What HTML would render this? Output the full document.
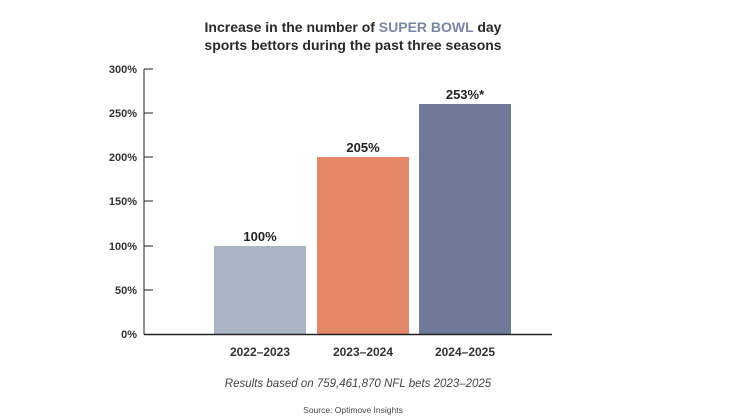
<!DOCTYPE html>
<html><head><style>
body{margin:0;background:#fff;}
svg{display:block;font-family:"Liberation Sans",sans-serif;}
</style></head><body>
<svg width="744" height="420" viewBox="0 0 744 420">
<text x="353" y="32" text-anchor="middle" font-size="14" font-weight="bold" fill="#2a2a2a">Increase in the number of <tspan fill="#7a86a6">SUPER BOWL</tspan> day</text>
<text x="353" y="50" text-anchor="middle" font-size="14" font-weight="bold" fill="#2a2a2a">sports bettors during the past three seasons</text>
<g stroke="#222" stroke-width="1">
<line x1="144" y1="69" x2="144" y2="334.5"/>
<line x1="144" y1="69" x2="153" y2="69"/>
<line x1="144" y1="113" x2="153" y2="113"/>
<line x1="144" y1="157" x2="153" y2="157"/>
<line x1="144" y1="201" x2="153" y2="201"/>
<line x1="144" y1="246" x2="153" y2="246"/>
<line x1="144" y1="290" x2="153" y2="290"/>
</g>
<g font-size="11" fill="#333" text-anchor="end" font-weight="bold">
<text x="137" y="73">300%</text>
<text x="137" y="117">250%</text>
<text x="137" y="161">200%</text>
<text x="137" y="205">150%</text>
<text x="137" y="250">100%</text>
<text x="137" y="294">50%</text>
<text x="137" y="338">0%</text>
</g>
<rect x="214" y="246" width="92" height="88" fill="#a9b4c6"/>
<rect x="317" y="157" width="92" height="177" fill="#e58769"/>
<rect x="419" y="104" width="92" height="230" fill="#6e7a98"/>
<line x1="144" y1="334.5" x2="552" y2="334.5" stroke="#222" stroke-width="1.5"/>
<g font-size="13" font-weight="bold" fill="#222" text-anchor="middle">
<text x="260" y="241">100%</text>
<text x="363" y="152">205%</text>
<text x="465" y="99">253%*</text>
</g>
<g font-size="12" font-weight="bold" fill="#333" text-anchor="middle">
<text x="260" y="356">2022–2023</text>
<text x="363" y="356">2023–2024</text>
<text x="465" y="356">2024–2025</text>
</g>
<text x="358" y="387" text-anchor="middle" font-size="11.5" font-style="italic" fill="#444">Results based on 759,461,870 NFL bets 2023–2025</text>
<text x="353" y="413" text-anchor="middle" font-size="8.5" fill="#444">Source: Optimove Insights</text>
</svg>
</body></html>
